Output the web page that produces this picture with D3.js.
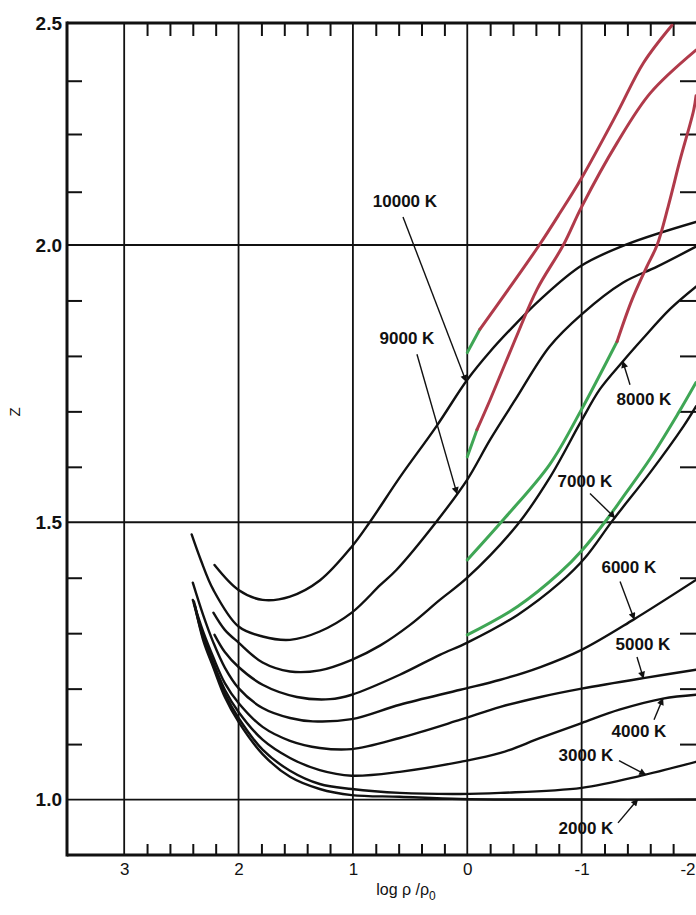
<!DOCTYPE html>
<html>
<head>
<meta charset="utf-8">
<script src="https://cdn.jsdelivr.net/npm/d3@7"></script>
<style>
  body { margin: 0; background: #fff; }
  svg { display: block; }
  text { font-family: "Liberation Sans", Arial, sans-serif; }
</style>
</head>
<body>
<svg id="chart" width="696" height="915"></svg>
<script>
// ---------------- DATA (log rho/rho0, Z) ----------------
const temperatures = ["10000 K", "9000 K", "8000 K", "7000 K", "6000 K", "5000 K", "4000 K", "3000 K", "2000 K"];

const curve10000K = [[2.21,1.423],[2.0,1.378],[1.79,1.36],[1.55,1.366],[1.29,1.395],[1.01,1.456],[0.85,1.501],[0.59,1.581],[0.27,1.673],[0,1.757],[-0.2,1.808],[-0.42,1.857],[-0.64,1.902],[-1.0,1.963],[-1.4,2.002],[-2.0,2.052]];
const curve9000K  = [[2.41,1.478],[2.33,1.432],[2.22,1.378],[2.0,1.312],[1.79,1.294],[1.55,1.288],[1.29,1.303],[1.01,1.337],[0.76,1.387],[0.62,1.414],[0.27,1.501],[0,1.577],[-0.2,1.649],[-0.42,1.721],[-0.72,1.817],[-1.0,1.875],[-1.36,1.932],[-1.66,1.961],[-2.0,1.997]];
const curve8000K  = [[2.22,1.337],[2.12,1.306],[2.0,1.283],[1.79,1.247],[1.55,1.231],[1.29,1.233],[1.01,1.252],[0.76,1.278],[0.5,1.315],[0.24,1.36],[0,1.4],[-0.44,1.496],[-0.72,1.58],[-0.99,1.68],[-1.16,1.74],[-1.36,1.79],[-1.53,1.83],[-1.77,1.884],[-2.0,1.925]];
const curve7000K  = [[2.21,1.297],[2.12,1.266],[2.0,1.239],[1.79,1.207],[1.49,1.185],[1.2,1.181],[1.01,1.189],[0.59,1.225],[0.24,1.261],[0,1.283],[-0.44,1.333],[-0.81,1.391],[-1.03,1.436],[-1.27,1.503],[-1.6,1.59],[-1.89,1.673],[-2.0,1.709]];
const curve6000K  = [[2.4,1.391],[2.31,1.333],[2.22,1.283],[2.12,1.238],[2.0,1.201],[1.79,1.165],[1.55,1.147],[1.35,1.141],[1.01,1.145],[0.59,1.171],[0.06,1.198],[-0.29,1.216],[-0.64,1.239],[-1.0,1.27],[-1.45,1.324],[-2.0,1.396]];
const curve5000K  = [[2.4,1.36],[2.31,1.303],[2.22,1.256],[2.12,1.21],[2.0,1.174],[1.79,1.131],[1.55,1.106],[1.29,1.093],[1.01,1.091],[0.59,1.111],[0.06,1.144],[-0.29,1.167],[-0.64,1.185],[-1.0,1.2],[-1.54,1.219],[-2.0,1.234]];
const curve4000K  = [[2.39,1.357],[2.31,1.295],[2.22,1.247],[2.12,1.198],[2.0,1.158],[1.79,1.108],[1.55,1.075],[1.29,1.053],[1.01,1.043],[0.59,1.05],[0.06,1.068],[-0.29,1.084],[-0.64,1.111],[-1.0,1.138],[-1.33,1.162],[-1.71,1.182],[-2.0,1.189]];
const curve3000K  = [[2.39,1.353],[2.31,1.292],[2.22,1.241],[2.12,1.191],[2.0,1.147],[1.79,1.09],[1.55,1.052],[1.29,1.028],[1.01,1.019],[0.59,1.012],[0.06,1.01],[-0.29,1.012],[-1.0,1.021],[-1.54,1.044],[-2.0,1.068]];
const curve2000K  = [[2.38,1.349],[2.31,1.288],[2.22,1.238],[2.12,1.185],[2.0,1.14],[1.79,1.082],[1.55,1.041],[1.29,1.019],[1.01,1.008],[0.59,1.005],[0.06,1.001],[-1.0,1.0],[-2.0,1.0]];

// alternative results (green = moderate, red = strong departure)
const green10000K = [[0,1.806],[-0.11,1.848]];
const red10000K   = [[-0.11,1.848],[-0.37,1.923],[-0.63,2.0],[-0.81,2.072],[-1.0,2.151],[-1.31,2.297],[-1.54,2.41],[-1.79,2.495]];
const green9000K  = [[0,1.618],[-0.085,1.667]];
const red9000K    = [[-0.085,1.667],[-0.2,1.721],[-0.42,1.83],[-0.61,1.92],[-0.84,2.0],[-1.0,2.086],[-1.31,2.23],[-1.6,2.342],[-2.0,2.439]];
const green8000K  = [[0,1.432],[-0.33,1.508],[-0.72,1.604],[-0.99,1.70],[-1.16,1.766],[-1.31,1.826]];
const red8000K    = [[-1.31,1.826],[-1.44,1.901],[-1.57,1.961],[-1.66,2.0],[-1.76,2.09],[-1.86,2.191],[-1.98,2.304],[-2.0,2.336]];
const green7000K  = [[0,1.297],[-0.44,1.348],[-0.81,1.409],[-1.01,1.451],[-1.22,1.505],[-1.36,1.545],[-1.6,1.615],[-1.84,1.695],[-2.0,1.752]];

// axes
const xTickValues = [3, 2, 1, 0, -1, -2];
const xTickLabels = ["3", "2", "1", "0", "-1", "-2"];
const xGridValues = [3, 2, 1, 0, -1];
const xMinorTicks = d3.range(3, -2.001, -0.2).map(v => +v.toFixed(1)).filter(v => Math.abs(v - Math.round(v)) > 1e-6);
const yTickValues = [1.0, 1.5, 2.0, 2.5];
const yTickLabels = ["1.0", "1.5", "2.0", "2.5"];
const yGridValues = [1.0, 1.5, 2.0];
const yMinorTicks = [1.1, 1.2, 1.3, 1.4, 1.6, 1.7, 1.8, 1.9, 2.12, 2.25, 2.37];

// annotation layout (data units): arrow-tip log rho, label centre, arrow start
const arrowTipX   = [0.01, 0.09, -1.36, -1.29, -1.46, -1.54, -1.71, -1.56, -1.49];
const labelPos    = [[0.545,2.097],[0.527,1.831],[-1.545,1.721],[-1.029,1.573],[-1.413,1.418],[-1.536,1.279],[-1.501,1.122],[-1.038,1.079],[-1.038,0.947]];
const arrowStart  = [[0.562,2.063],[0.44,1.803],[-1.423,1.748],[-1.073,1.552],[-1.336,1.393],[-1.484,1.257],[-1.633,1.144],[-1.327,1.07],[-1.318,0.958]];

// ---------------- DRAWING ----------------
const blackCurves = [curve10000K, curve9000K, curve8000K, curve7000K, curve6000K, curve5000K, curve4000K, curve3000K, curve2000K];
const greenCurves = [green10000K, green9000K, green8000K, green7000K];
const redCurves = [red10000K, red9000K, red8000K];

const L = 67, R = 696, T = 23, B = 855;
const x = d3.scaleLinear().domain([3.5, -2]).range([L, R]);
const y = d3.scaleLinear().domain([0.9, 2.0, 2.5]).range([B, 245, T]);

const svg = d3.select("#chart");
svg.append("rect").attr("width", 696).attr("height", 915).attr("fill", "#fff");

const defs = svg.append("defs");
defs.append("clipPath").attr("id", "plotClip")
  .append("rect").attr("x", L).attr("y", T).attr("width", R - L).attr("height", B - T);
defs.append("marker").attr("id", "arrow").attr("viewBox", "0 0 10 10")
  .attr("refX", 9).attr("refY", 5).attr("markerWidth", 9).attr("markerHeight", 7)
  .attr("markerUnits", "userSpaceOnUse").attr("orient", "auto")
  .append("path").attr("d", "M0,0 L10,5 L0,10 z").attr("fill", "#111");

// grid lines
svg.append("g").selectAll("line").data(xGridValues).join("line")
  .attr("x1", d => x(d)).attr("x2", d => x(d)).attr("y1", T).attr("y2", B)
  .attr("stroke", "#111").attr("stroke-width", 1.8);
svg.append("g").selectAll("line").data(yGridValues).join("line")
  .attr("x1", L).attr("x2", R).attr("y1", d => y(d)).attr("y2", d => y(d))
  .attr("stroke", "#111").attr("stroke-width", 1.8);

// minor ticks via d3 axes
function minor(axis, transform) {
  const g = svg.append("g").attr("transform", transform).call(axis);
  g.select(".domain").remove();
  g.selectAll(".tick line").attr("stroke", "#111").attr("stroke-width", 2);
  g.selectAll(".tick text").remove();
}
minor(d3.axisBottom(x).tickValues(xMinorTicks).tickSize(-11), `translate(0,${B})`);
minor(d3.axisTop(x).tickValues(xMinorTicks).tickSize(-13), `translate(0,${T})`);
minor(d3.axisLeft(y).tickValues(yMinorTicks).tickSize(-15), `translate(${L},0)`);
minor(d3.axisRight(y).tickValues(yMinorTicks).tickSize(-16), `translate(${R},0)`);

// frame
svg.append("line").attr("x1", L).attr("x2", L).attr("y1", T - 1.5).attr("y2", B + 1.5).attr("stroke", "#111").attr("stroke-width", 3);
svg.append("line").attr("x1", L).attr("x2", R).attr("y1", T).attr("y2", T).attr("stroke", "#111").attr("stroke-width", 3);
svg.append("line").attr("x1", L).attr("x2", R).attr("y1", B).attr("y2", B).attr("stroke", "#111").attr("stroke-width", 3);

// tick labels
const xAxis = svg.append("g").attr("transform", `translate(0,${B})`)
  .call(d3.axisBottom(x).tickValues(xTickValues).tickFormat((d, i) => xTickLabels[i]).tickSize(0).tickPadding(8));
xAxis.select(".domain").remove();
xAxis.selectAll("text").attr("font-family", "'Liberation Sans Narrow','Liberation Sans',Arial,sans-serif")
  .attr("font-size", 17).attr("fill", "#111");
xAxis.selectAll(".tick").filter(d => d === -2).select("text").attr("text-anchor", "end").attr("x", -1);

const yAxis = svg.append("g").attr("transform", `translate(${L},0)`)
  .call(d3.axisLeft(y).tickValues(yTickValues).tickFormat((d, i) => yTickLabels[i]).tickSize(0).tickPadding(5));
yAxis.select(".domain").remove();
yAxis.selectAll("text").attr("font-family", "'Liberation Sans',Arial,sans-serif")
  .attr("font-size", 19).attr("font-weight", "bold").attr("fill", "#111");

// axis titles
const xt = svg.append("text").attr("x", 406).attr("y", 895).attr("text-anchor", "middle")
  .attr("font-family", "'Liberation Sans Narrow','Liberation Sans',Arial,sans-serif")
  .attr("font-size", 16).attr("fill", "#111");
xt.append("tspan").text("log ρ /ρ");
xt.append("tspan").attr("dy", 5).attr("font-size", 12).text("0");

svg.append("text").attr("transform", "translate(20,412) rotate(-90)").attr("text-anchor", "middle")
  .attr("font-size", 15).attr("fill", "#111").text("Z");

// curves
const line = d3.line().x(d => x(d[0])).y(d => y(d[1])).curve(d3.curveCatmullRom.alpha(0.5));
const plot = svg.append("g").attr("clip-path", "url(#plotClip)");
plot.selectAll("path.black").data(blackCurves).join("path").attr("class", "black")
  .attr("d", line).attr("fill", "none").attr("stroke", "#111").attr("stroke-width", 2.4)
  .attr("stroke-linejoin", "round").attr("stroke-linecap", "round");
plot.selectAll("path.green").data(greenCurves).join("path").attr("class", "green")
  .attr("d", line).attr("fill", "none").attr("stroke", "#3fa655").attr("stroke-width", 3)
  .attr("stroke-linecap", "round");
plot.selectAll("path.red").data(redCurves).join("path").attr("class", "red")
  .attr("d", line).attr("fill", "none").attr("stroke", "#b03a4a").attr("stroke-width", 3)
  .attr("stroke-linecap", "round");

// annotations
function zAt(curve, xv) {
  for (let i = 0; i < curve.length - 1; i++) {
    const a = curve[i], b = curve[i + 1];
    if ((xv <= a[0] && xv >= b[0])) {
      const t = (a[0] - xv) / (a[0] - b[0]);
      return a[1] + t * (b[1] - a[1]);
    }
  }
  return curve[curve.length - 1][1];
}
const ann = svg.append("g");
temperatures.forEach((t, i) => {
  const tip = [arrowTipX[i], zAt(blackCurves[i], arrowTipX[i])];
  ann.append("line")
    .attr("x1", x(arrowStart[i][0])).attr("y1", y(arrowStart[i][1]))
    .attr("x2", x(tip[0])).attr("y2", y(tip[1]))
    .attr("stroke", "#111").attr("stroke-width", 1.4).attr("marker-end", "url(#arrow)");
  ann.append("text").attr("x", x(labelPos[i][0])).attr("y", y(labelPos[i][1]))
    .attr("text-anchor", "middle").attr("dominant-baseline", "central")
    .attr("font-size", 17).attr("font-weight", "bold").attr("fill", "#111").text(t);
});
</script>
</body>
</html>
